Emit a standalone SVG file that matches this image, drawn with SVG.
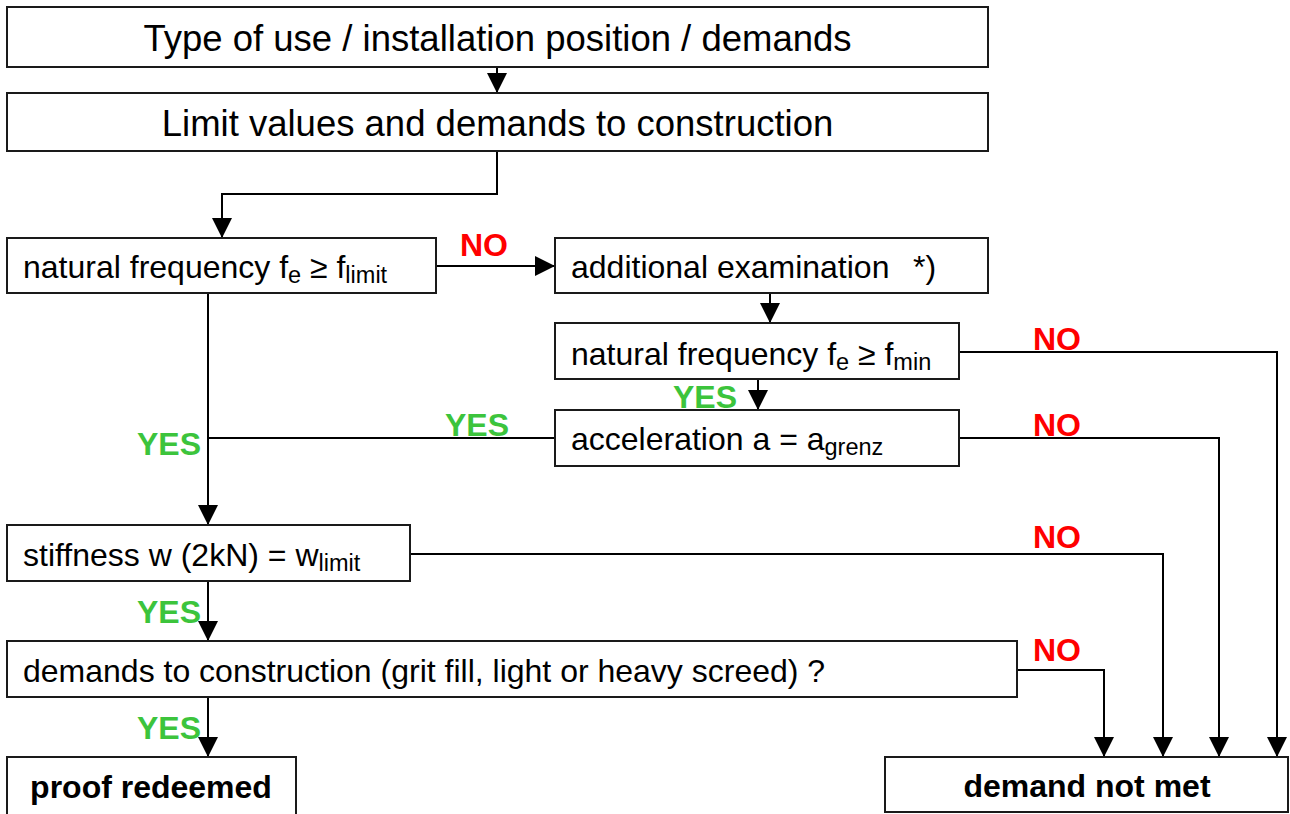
<svg xmlns="http://www.w3.org/2000/svg" width="1290" height="814" viewBox="0 0 1290 814">
<style>
.box{fill:#fff;stroke:#1a1a1a;stroke-width:2}
.t{font-family:"Liberation Sans",Arial,sans-serif;font-size:32px;fill:#000}
.big{font-size:36.5px}
.b{font-weight:bold}
.sub{font-size:23.5px}
.no{font-family:"Liberation Sans",Arial,sans-serif;font-size:32px;font-weight:bold;fill:#ff0000}
.yes{font-family:"Liberation Sans",Arial,sans-serif;font-size:32px;font-weight:bold;fill:#3cc43c}
.c{fill:none;stroke:#000;stroke-width:2}
</style>
<defs>
<marker id="ah" markerUnits="userSpaceOnUse" markerWidth="20" markerHeight="20" refX="19" refY="10" orient="auto" viewBox="0 0 20 20">
<path d="M0,0 L20,10 L0,20 z" fill="#000"/>
</marker>
</defs>
<rect width="1290" height="814" fill="#fff"/>
<g id="connectors">
<path class="c" d="M497,67 V92" marker-end="url(#ah)"/>
<path class="c" d="M497,151 V194 H222 V237" marker-end="url(#ah)"/>
<path class="c" d="M436,266 H554" marker-end="url(#ah)"/>
<path class="c" d="M770,293 V322" marker-end="url(#ah)"/>
<path class="c" d="M758,379 V409" marker-end="url(#ah)"/>
<path class="c" d="M555,438 H208"/>
<path class="c" d="M208,293 V524" marker-end="url(#ah)"/>
<path class="c" d="M208,581 V640" marker-end="url(#ah)"/>
<path class="c" d="M208,697 V756" marker-end="url(#ah)"/>
<path class="c" d="M959,352 H1277 V756" marker-end="url(#ah)"/>
<path class="c" d="M959,438 H1219 V756" marker-end="url(#ah)"/>
<path class="c" d="M410,554 H1163 V756" marker-end="url(#ah)"/>
<path class="c" d="M1017,670 H1104 V756" marker-end="url(#ah)"/>
<text class="no" x="460" y="256">NO</text>
<text class="no" x="1033" y="350">NO</text>
<text class="no" x="1033" y="436">NO</text>
<text class="no" x="1033" y="548">NO</text>
<text class="no" x="1033" y="661">NO</text>
<text class="yes" x="673" y="408">YES</text>
<text class="yes" x="445" y="436">YES</text>
<text class="yes" x="137" y="455">YES</text>
<text class="yes" x="137" y="623">YES</text>
<text class="yes" x="137" y="739">YES</text>
</g>
<g id="n1"><rect class="box" x="7" y="7" width="981" height="60"/>
<text class="t big" x="497.5" y="51" text-anchor="middle">Type of use / installation position / demands</text></g>
<g id="n2"><rect class="box" x="7" y="93" width="981" height="58"/>
<text class="t big" x="497.5" y="136" text-anchor="middle">Limit values and demands to construction</text></g>
<g id="n3"><rect class="box" x="7" y="238" width="429" height="55"/>
<text class="t" x="23" y="278">natural frequency f<tspan class="sub" dy="5">e</tspan><tspan dy="-5"> ≥ f</tspan><tspan class="sub" dy="5">limit</tspan></text></g>
<g id="n4"><rect class="box" x="555" y="238" width="433" height="55"/>
<text class="t" x="571" y="278">additional examination<tspan x="913">*)</tspan></text></g>
<g id="n5"><rect class="box" x="555" y="323" width="404" height="56"/>
<text class="t" x="571" y="365">natural frequency f<tspan class="sub" dy="5">e</tspan><tspan dy="-5"> ≥ f</tspan><tspan class="sub" dy="5">min</tspan></text></g>
<g id="n6"><rect class="box" x="555" y="410" width="404" height="56"/>
<text class="t" x="571" y="450">acceleration a = a<tspan class="sub" dy="5">grenz</tspan></text></g>
<g id="n7"><rect class="box" x="7" y="525" width="403" height="56"/>
<text class="t" x="23" y="566">stiffness w (2kN) = w<tspan class="sub" dy="5">limit</tspan></text></g>
<g id="n8"><rect class="box" x="7" y="641" width="1010" height="56"/>
<text class="t" x="23" y="682">demands to construction (grit fill, light or heavy screed) ?</text></g>
<g id="n9"><rect class="box" x="7" y="757" width="289" height="70"/>
<text class="t b" x="151" y="798" text-anchor="middle">proof redeemed</text></g>
<g id="n10"><rect class="box" x="885" y="757" width="403" height="55"/>
<text class="t b" x="1087" y="797" text-anchor="middle">demand not met</text></g>
</svg>
